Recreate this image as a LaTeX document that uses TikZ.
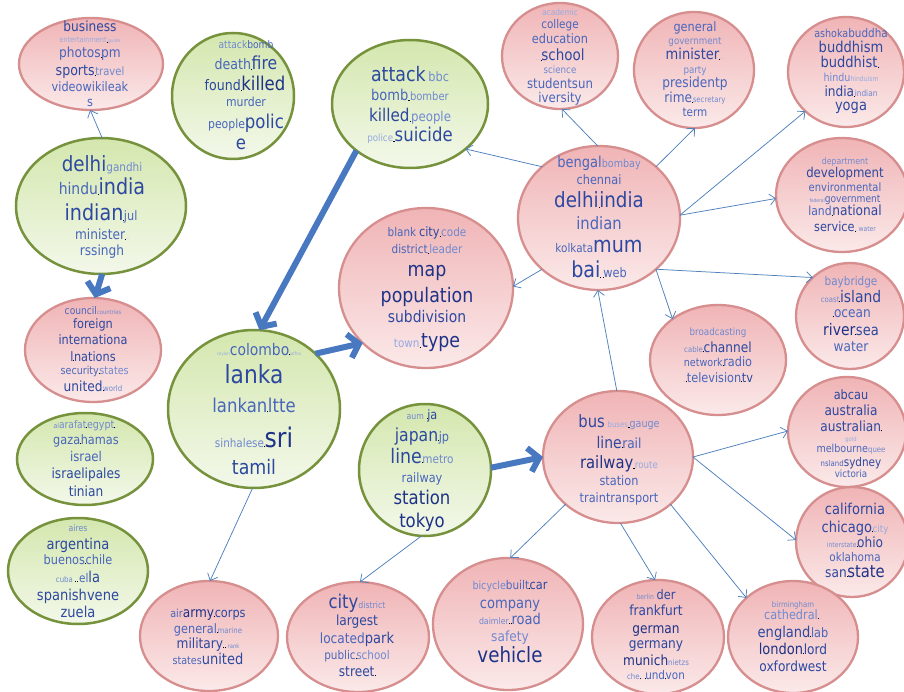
\documentclass[tikz,border=0pt]{standalone}
\usepackage{fontspec}
\setmainfont{DejaVu Sans}[FakeStretch=0.87]
\usetikzlibrary{shapes.geometric,arrows.meta}

\definecolor{pkline}{RGB}{214,142,142}
\definecolor{pktop}{RGB}{240,180,182}
\definecolor{pkbot}{RGB}{251,233,233}
\definecolor{gnline}{RGB}{118,146,60}
\definecolor{gntop}{RGB}{212,231,174}
\definecolor{gnbot}{RGB}{243,248,234}
\definecolor{linkblue}{RGB}{79,129,189}
\definecolor{fatblue}{RGB}{72,120,192}
\definecolor{c1}{RGB}{30,50,135}
\definecolor{c2}{RGB}{44,72,160}
\definecolor{c3}{RGB}{72,102,188}
\definecolor{c4}{RGB}{112,137,208}
\definecolor{c5}{RGB}{150,170,224}

% one word of a cloud: size, colour, text
\newcommand{\wrd}[3]{{\fontsize{#1}{#1}\selectfont\color{#2}#3}}
% tiny black separators between words
\newcommand{\gb}{{\color{black}\rule{1.6pt}{0.5pt}}}
\newcommand{\gd}{{\color{black}\rule{0.6pt}{0.6pt}}}
% one line of a cloud, placed by its baseline
\newcommand{\txtline}[4]{\node[wl] (#1) at (#2,#3) {#4};}

\tikzset{
  pk/.style={ellipse, draw=pkline, line width=2.3pt, top color=pktop, bottom color=pkbot, inner sep=0pt, outer sep=0pt},
  gn/.style={ellipse, draw=gnline, line width=2.5pt, top color=gntop, bottom color=gnbot, inner sep=0pt, outer sep=0pt},
  wl/.style={anchor=base, inner sep=0pt, outer sep=0pt},
  conn/.style={draw=linkblue, line width=0.75pt, -{Straight Barb[length=6pt,width=11pt]}},
  fat/.style={draw=fatblue, line width=6pt, -{Straight Barb[length=10pt,width=24pt]}},
}

\begin{document}
\begin{tikzpicture}[x=1pt,y=-1pt]
\useasboundingbox (0,0) rectangle (904,692);
\fill[white] (0,0) rectangle (904,692);

% ---- clusters ----
\node[pk, minimum width=144pt, minimum height=92pt]  (pBiz)     at (91,64)   {};
\node[gn, minimum width=122pt, minimum height=126pt] (gAtk1)    at (233,96)  {};
\node[gn, minimum width=156pt, minimum height=128pt] (gAtk2)    at (410,104) {};
\node[pk, minimum width=116pt, minimum height=106pt] (pAcad)    at (560,56)  {};
\node[pk, minimum width=120pt, minimum height=116pt] (pGen)     at (694,70)  {};
\node[pk, minimum width=116pt, minimum height=110pt] (pAsh)     at (846,72)  {};
\node[gn, minimum width=170pt, minimum height=136pt] (gDelhi)   at (101,206) {};
\node[pk, minimum width=136pt, minimum height=104pt] (pCouncil) at (93,350)  {};
\node[pk, minimum width=162pt, minimum height=144pt] (pBengal)  at (599,218) {};
\node[pk, minimum width=132pt, minimum height=114pt] (pDept)    at (842,195) {};
\node[pk, minimum width=108pt, minimum height=106pt] (pBay)     at (850,316) {};
\node[pk, minimum width=174pt, minimum height=160pt] (pMap)     at (426,288) {};
\node[gn, minimum width=136pt, minimum height=92pt]  (gArafat)  at (85,459)  {};
\node[gn, minimum width=140pt, minimum height=106pt] (gAires)   at (78,571)  {};
\node[gn, minimum width=172pt, minimum height=158pt] (gColombo) at (254,409) {};
\node[gn, minimum width=132pt, minimum height=132pt] (gJapan)   at (425,470) {};
\node[pk, minimum width=150pt, minimum height=132pt] (pBus)     at (618,457) {};
\node[pk, minimum width=136pt, minimum height=110pt] (pBroad)   at (718,360) {};
\node[pk, minimum width=118pt, minimum height=110pt] (pAbc)     at (847,432) {};
\node[pk, minimum width=112pt, minimum height=110pt] (pCal)     at (852,542) {};
\node[pk, minimum width=138pt, minimum height=110pt] (pArmy)    at (209,636) {};
\node[pk, minimum width=142pt, minimum height=110pt] (pCity)    at (358,637) {};
\node[pk, minimum width=150pt, minimum height=132pt] (pBike)    at (508,624) {};
\node[pk, minimum width=132pt, minimum height=114pt] (pBerlin)  at (658,637) {};
\node[pk, minimum width=130pt, minimum height=112pt] (pBirm)    at (793,637) {};

% ---- links ----
\draw[conn] (gDelhi.89) -- (pBiz.-91);
\draw[fat]  (gDelhi.-89) -- (pCouncil.88);
\draw[conn] (pBengal.138) -- (gAtk2.-39);
\draw[conn] (pBengal.91) -- (pAcad.-88);
\draw[conn] (pBengal.42) -- (pGen.-89);
\draw[conn] (pBengal.2) -- (pAsh.-136);
\draw[conn] (pBengal.2) -- (pDept.-177);
\draw[conn] (pBengal.-42) -- (pBay.134);
\draw[conn] (pBengal.-42) -- (pBroad.138);
\draw[conn] (pBengal.-138) -- (pMap.1);
\draw[conn] (pBus.91) -- (pBengal.-91);
\draw[fat]  (gAtk2.-139) -- (gColombo.86);
\draw[fat]  (gColombo.42) -- (pMap.-139);
\draw[fat]  (gJapan.2) -- (pBus.180);
\draw[conn] (gColombo.-91) -- (pArmy.89);
\draw[conn] (gJapan.-93) -- (pCity.88);
\draw[conn] (pBus.-138) -- (pBike.88);
\draw[conn] (pBus.-88) -- (pBerlin.93);
\draw[conn] (pBus.-42) -- (pBirm.140);
\draw[conn] (pBus.0) -- (pAbc.179);
\draw[conn] (pBus.0) -- (pCal.178);

% ---- words ----
\txtline{biz1}{90}{32}{\wrd{14}{c2}{business}}
\txtline{biz2}{90}{43}{\wrd{7.5}{c5}{entertainment}\gb\wrd{5}{c5}{guide}}
\txtline{biz3}{90}{58}{\wrd{14}{c3}{photos}\gd\wrd{14}{c3}{pm}}
\txtline{biz4}{90}{76}{\wrd{14.5}{c2}{sports}\gd\wrd{11.5}{c4}{travel}}
\txtline{biz5}{90}{92}{\wrd{13}{c3}{videowikileak}}
\txtline{biz6}{90}{107}{\wrd{13}{c3}{s}}

\txtline{atk1}{246}{49}{\wrd{10.5}{c4}{attack}\wrd{10.5}{c3}{bomb}}
\txtline{atk2}{246}{70}{\wrd{14.5}{c3}{death}\gd\wrd{18}{c2}{fire}}
\txtline{atk3}{245}{91}{\wrd{14.5}{c2}{found}\gd\wrd{19}{c1}{killed}}
\txtline{atk4}{246}{107}{\wrd{12.5}{c3}{murder}}
\txtline{atk5}{246}{129}{\wrd{12.5}{c3}{people}\wrd{19}{c2}{polic}}
\txtline{atk6}{242}{150}{\wrd{19}{c2}{e}\wrd{4}{c5}{..}}

\txtline{bbc1}{410}{82}{\wrd{20}{c2}{attack} \wrd{13}{c4}{bbc}}
\txtline{bbc2}{410}{101}{\wrd{15}{c3}{bomb}\gb\wrd{11.5}{c4}{bomber}}
\txtline{bbc3}{410}{122}{\wrd{17.5}{c2}{killed}\gb\wrd{13.5}{c4}{people}}
\txtline{bbc4}{410}{142}{\wrd{10}{c5}{police}\gb\wrd{19}{c2}{suicide}}

\txtline{aca1}{560}{16}{\wrd{8.5}{c5}{academic}}
\txtline{aca2}{560}{29}{\wrd{12}{c3}{college}}
\txtline{aca3}{560}{44}{\wrd{13}{c3}{education}}
\txtline{aca4}{560}{61}{\wrd{4}{c5}{.....}\gd\wrd{15.5}{c2}{school}}
\txtline{aca5}{560}{74}{\wrd{10}{c4}{science}}
\txtline{aca6}{560}{89}{\wrd{13.5}{c3}{studentsun}}
\txtline{aca7}{560}{103}{\wrd{13.5}{c3}{iversity}}

\txtline{gen1}{695}{32}{\wrd{13}{c3}{general}}
\txtline{gen2}{695}{45}{\wrd{10}{c4}{government}}
\txtline{gen3}{695}{60}{\wrd{15}{c2}{minister}\gd\wrd{4}{c5}{....}}
\txtline{gen4}{695}{74}{\wrd{10}{c4}{party}}
\txtline{gen5}{695}{88}{\wrd{14}{c3}{presidentp}}
\txtline{gen6}{695}{103}{\wrd{14}{c3}{rime}\gd\wrd{8}{c4}{secretary}}
\txtline{gen7}{695}{117}{\wrd{12}{c3}{term}}

\txtline{ash1}{851}{38}{\wrd{11}{c3}{ashoka}\wrd{12}{c3}{buddha}}
\txtline{ash2}{851}{53}{\wrd{15}{c2}{buddhism}}
\txtline{ash3}{851}{68}{\wrd{15}{c2}{buddhist}\gd\wrd{4}{c5}{...}}
\txtline{ash4}{851}{82}{\wrd{11}{c4}{hindu}\wrd{7}{c5}{hinduism}}
\txtline{ash5}{851}{97}{\wrd{14}{c2}{india}\gd\wrd{8.5}{c4}{indian}}
\txtline{ash6}{851}{111}{\wrd{15}{c2}{yoga}}

\txtline{dl1}{102}{172}{\wrd{21}{c2}{delhi}\wrd{12}{c4}{gandhi}}
\txtline{dl2}{102}{195}{\wrd{16}{c3}{hindu}\gd\wrd{22}{c2}{india}}
\txtline{dl3}{101}{221}{\wrd{22}{c2}{indian}\gd\wrd{13}{c3}{jul}}
\txtline{dl4}{102}{240}{\wrd{14}{c3}{minister}\gd\wrd{4}{c5}{...}}
\txtline{dl5}{102}{256}{\wrd{14}{c3}{rssingh}}

\txtline{cn1}{93}{315}{\wrd{10.5}{c3}{council}\wrd{6}{c4}{countries}}
\txtline{cn2}{93}{328}{\wrd{13}{c2}{foreign}}
\txtline{cn3}{93}{344}{\wrd{13}{c2}{internationa}}
\txtline{cn4}{93}{361}{\wrd{13}{c2}{l}\gd\wrd{13}{c2}{nations}}
\txtline{cn5}{93}{374}{\wrd{4}{c5}{...}\wrd{11}{c3}{security}\gd\wrd{11}{c4}{states}}
\txtline{cn6}{93}{391}{\wrd{14}{c2}{united}\gd\wrd{8}{c4}{world}}

\txtline{bg1}{599}{168}{\wrd{15}{c3}{bengal}\wrd{11}{c4}{bombay}}
\txtline{bg2}{599}{185}{\wrd{13}{c3}{chennai}}
\txtline{bg3}{599}{208}{\wrd{21}{c2}{delhi}\gd\wrd{21}{c2}{india}}
\txtline{bg4}{599}{230}{\wrd{17}{c3}{indian}}
\txtline{bg5}{599}{253}{\wrd{12}{c3}{kolkata}\wrd{22}{c2}{mum}}
\txtline{bg6}{599}{278}{\wrd{22}{c2}{bai}\gd\,\gd\wrd{13}{c3}{web}}

\txtline{dp1}{845}{165}{\wrd{9}{c4}{department}}
\txtline{dp2}{845}{178}{\wrd{13.5}{c2}{development}}
\txtline{dp3}{845}{192}{\wrd{11.5}{c3}{environmental}}
\txtline{dp4}{845}{203}{\wrd{5}{c4}{federal}\wrd{10.5}{c3}{government}}
\txtline{dp5}{845}{216}{\wrd{12.5}{c3}{land}\gd\wrd{14}{c2}{national}}
\txtline{dp6}{845}{232}{\wrd{13}{c2}{service}\gd\wrd{4}{c5}{...}\wrd{7}{c4}{water}}

\txtline{by1}{851}{286}{\wrd{12}{c4}{baybridge}}
\txtline{by2}{851}{302}{\wrd{8}{c4}{coast}\gd\wrd{16}{c2}{island}}
\txtline{by3}{851}{317}{\wrd{4}{c5}{..}\gd\wrd{14}{c3}{ocean}}
\txtline{by4}{851}{335}{\wrd{16}{c1}{river}\gd\wrd{15}{c2}{sea}}
\txtline{by5}{851}{351}{\wrd{14}{c3}{water}}

\txtline{mp1}{427}{237}{\wrd{12}{c3}{blank} \wrd{13}{c2}{city}\gb\wrd{12}{c4}{code}}
\txtline{mp2}{427}{254}{\wrd{12}{c3}{district}\gb\wrd{12}{c4}{leader}}
\txtline{mp3}{427}{277}{\wrd{20}{c1}{map}}
\txtline{mp4}{427}{302}{\wrd{20}{c1}{population}}
\txtline{mp5}{427}{323}{\wrd{16}{c2}{subdivision}}
\txtline{mp6}{427}{347}{\wrd{12}{c5}{town}\gb\wrd{20}{c1}{type}}

\txtline{ar1}{86}{428}{\wrd{7}{c4}{al}\wrd{10.5}{c4}{arafat}\gd\wrd{11}{c4}{egypt}\gd\wrd{4}{c5}{...}}
\txtline{ar2}{86}{444}{\wrd{13}{c3}{gaza}\gd\wrd{13}{c3}{hamas}}
\txtline{ar3}{86}{461}{\wrd{13.5}{c3}{israel}}
\txtline{ar4}{86}{478}{\wrd{14}{c2}{israelipales}}
\txtline{ar5}{86}{496}{\wrd{14}{c2}{tinian}}

\txtline{ai1}{78}{531}{\wrd{9}{c4}{aires}}
\txtline{ai2}{78}{549}{\wrd{15}{c2}{argentina}}
\txtline{ai3}{78}{564}{\wrd{13}{c3}{buenos}\gd\wrd{13}{c3}{chile}}
\txtline{ai4}{78}{582}{\wrd{8}{c4}{cuba}\,\gd\,\gd\,\wrd{12}{c3}{el}\wrd{15}{c2}{la}}
\txtline{ai5}{78}{600}{\wrd{15}{c2}{spanishvene}}
\txtline{ai6}{78}{617}{\wrd{15}{c2}{zuela}}

\txtline{co1}{259}{355}{\wrd{4.5}{c5}{ceylon}\wrd{16}{c3}{colombo}\gd\wrd{4.5}{c5}{jaffna}}
\txtline{co2}{254}{383}{\wrd{25}{c2}{lanka}}
\txtline{co3}{254}{412}{\wrd{19}{c3}{lankan}\gd\wrd{19}{c3}{ltte}}
\txtline{co4}{254}{447}{\wrd{12}{c4}{sinhalese}\gd\wrd{27}{c1}{sri}}
\txtline{co5}{254}{474}{\wrd{20}{c2}{tamil}}

\txtline{jp1}{422}{419}{\wrd{9}{c4}{aum} \gd\wrd{13}{c2}{ja}}
\txtline{jp2}{422}{441}{\wrd{18}{c2}{japan}\gd\wrd{13}{c3}{jp}}
\txtline{jp3}{422}{463}{\wrd{20}{c2}{line}\gd\wrd{12}{c4}{metro}}
\txtline{jp4}{422}{482}{\wrd{13}{c3}{railway}}
\txtline{jp5}{422}{504}{\wrd{19}{c1}{station}}
\txtline{jp6}{422}{527}{\wrd{19}{c1}{tokyo}}

\txtline{bu1}{619}{427}{\wrd{17}{c2}{bus} \wrd{8}{c5}{buses}\gb\wrd{11}{c4}{gauge}}
\txtline{bu2}{619}{448}{\wrd{16}{c2}{line}\gd\wrd{14}{c3}{rail}}
\txtline{bu3}{619}{468}{\wrd{17}{c1}{railway}\gb\wrd{10}{c5}{route}}
\txtline{bu4}{619}{485}{\wrd{13}{c3}{station}}
\txtline{bu5}{619}{502}{\wrd{13}{c3}{traintransport}}

\txtline{br1}{718}{335}{\wrd{10}{c4}{broadcasting}}
\txtline{br2}{718}{352}{\wrd{8}{c4}{cable}\gd\wrd{14}{c2}{channel}}
\txtline{br3}{718}{366}{\wrd{11}{c3}{network}\gd\wrd{13}{c3}{radio}}
\txtline{br4}{718}{382}{\wrd{4}{c5}{...}\gd\wrd{13}{c3}{television}\gd\wrd{13}{c2}{tv}}

\txtline{ab1}{851}{399}{\wrd{13}{c2}{abcau}}
\txtline{ab2}{851}{415}{\wrd{14}{c2}{australia}}
\txtline{ab3}{851}{431}{\wrd{14}{c2}{australian}\gd}
\txtline{ab4}{851}{441}{\wrd{6}{c5}{gold}}
\txtline{ab5}{851}{452}{\wrd{11}{c3}{melbourne}\wrd{8}{c4}{quee}}
\txtline{ab6}{851}{466}{\wrd{8}{c3}{nsland}\wrd{12}{c2}{sydney}}
\txtline{ab7}{851}{477}{\wrd{10}{c3}{victoria}}

\txtline{ca1}{855}{514}{\wrd{15}{c2}{california}}
\txtline{ca2}{855}{532}{\wrd{15}{c2}{chicago}\gd\wrd{10}{c5}{city}}
\txtline{ca3}{855}{547}{\wrd{7}{c4}{interstate}\gd\wrd{14}{c2}{ohio}}
\txtline{ca4}{855}{561}{\wrd{12}{c3}{oklahoma}}
\txtline{ca5}{855}{577}{\wrd{14}{c2}{san}\gd\wrd{17}{c1}{state}}

\txtline{am1}{208}{617}{\wrd{11}{c3}{air}\wrd{14}{c1}{army}\gd\wrd{13}{c2}{corps}}
\txtline{am2}{208}{633}{\wrd{13}{c3}{general}\gd\wrd{8}{c4}{marine}}
\txtline{am3}{208}{648}{\wrd{14}{c2}{military}\gd\,\gd\,\wrd{6}{c4}{rank}}
\txtline{am4}{208}{664}{\wrd{11}{c3}{states}\wrd{15}{c2}{united}}

\txtline{ct1}{357}{608}{\wrd{19}{c2}{city}\wrd{9}{c4}{district}}
\txtline{ct2}{357}{625}{\wrd{14}{c2}{largest}}
\txtline{ct3}{357}{643}{\wrd{14}{c3}{located}\wrd{15}{c2}{park}}
\txtline{ct4}{357}{659}{\wrd{12}{c3}{public}\gd\wrd{12}{c4}{school}}
\txtline{ct5}{357}{676}{\wrd{14}{c2}{street}\gd}

\txtline{bk1}{510}{589}{\wrd{11}{c4}{bicycle}\wrd{12}{c3}{built}\gd\wrd{13}{c2}{car}}
\txtline{bk2}{510}{608}{\wrd{15}{c3}{company}}
\txtline{bk3}{510}{624}{\wrd{9}{c4}{daimler}\gd\,\gd\wrd{15}{c3}{road}}
\txtline{bk4}{510}{641}{\wrd{14}{c4}{safety}}
\txtline{bk5}{510}{662}{\wrd{21}{c1}{vehicle}}

\txtline{be1}{656}{599}{\wrd{7}{c4}{berlin} \wrd{13}{c2}{der}}
\txtline{be2}{656}{615}{\wrd{14}{c2}{frankfurt}}
\txtline{be3}{656}{633}{\wrd{14}{c1}{german}}
\txtline{be4}{656}{648}{\wrd{14}{c2}{germany}}
\txtline{be5}{656}{665}{\wrd{14}{c1}{munich}\wrd{8}{c4}{nietzs}}
\txtline{be6}{656}{679}{\wrd{8}{c4}{che}\gd\wrd{4}{c5}{....}\gd\wrd{12}{c3}{und}\gd\wrd{12}{c3}{von}}

\txtline{bm1}{793}{607}{\wrd{8}{c4}{birmingham}}
\txtline{bm2}{793}{619}{\wrd{13}{c4}{cathedral}\gd\wrd{4}{c5}{...}}
\txtline{bm3}{793}{637}{\wrd{15}{c2}{england}\gd\wrd{13}{c3}{lab}}
\txtline{bm4}{793}{654}{\wrd{15}{c1}{london}\gd\wrd{14}{c2}{lord}}
\txtline{bm5}{793}{671}{\wrd{14}{c2}{oxfordwest}}
\end{tikzpicture}
\end{document}
